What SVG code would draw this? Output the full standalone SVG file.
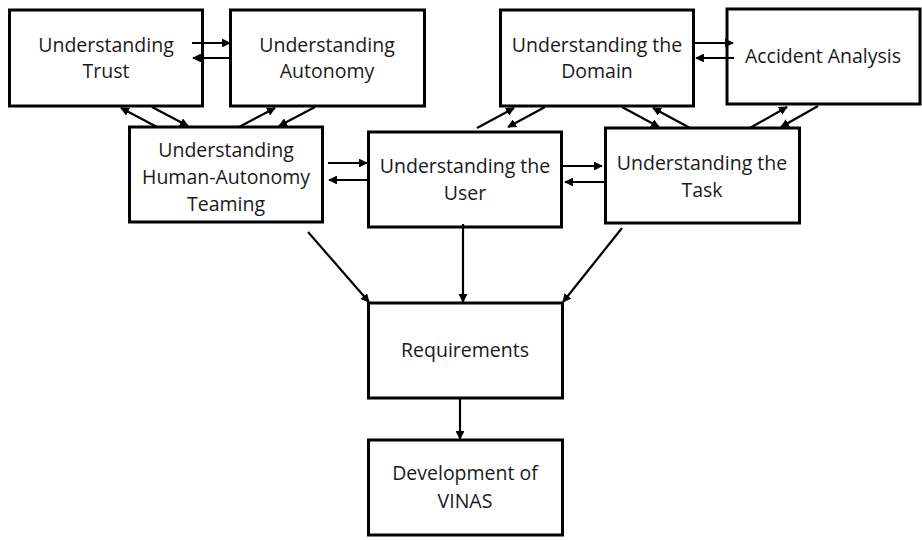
<svg xmlns="http://www.w3.org/2000/svg" width="922" height="540" viewBox="0 0 922 540">
<defs>
<marker id="ah" viewBox="0 0 10 10" refX="9" refY="5" markerWidth="4" markerHeight="4" orient="auto" markerUnits="strokeWidth">
<path d="M0,0 L10,5 L0,10 z" fill="#000"/>
</marker>
<style>
.box{fill:#fff;stroke:#000;stroke-width:3}
.t{font-family:"Open Sans","Liberation Sans",sans-serif;font-size:19.5px;fill:#1a1a1a;text-anchor:middle}
.c{stroke:#000;stroke-width:2.2;fill:none;marker-end:url(#ah)}
</style>
</defs>
<rect width="922" height="540" fill="#fff"/>
<g id="trust"><rect class="box" x="9.5" y="10" width="193" height="96"/><text class="t" x="106" y="52">Understanding</text><text class="t" x="106" y="78">Trust</text></g>
<g id="autonomy"><rect class="box" x="230.5" y="10" width="194" height="96"/><text class="t" x="327" y="52">Understanding</text><text class="t" x="327" y="78">Autonomy</text></g>
<g id="hat"><rect class="box" x="129.5" y="127" width="193" height="95"/><text class="t" x="226" y="157">Understanding</text><text class="t" x="226" y="184">Human-Autonomy</text><text class="t" x="226" y="211">Teaming</text></g>
<g id="user"><rect class="box" x="368.5" y="132" width="193" height="95"/><text class="t" x="465" y="173">Understanding the</text><text class="t" x="465" y="200">User</text></g>
<g id="domain"><rect class="box" x="500.5" y="10" width="193" height="96"/><text class="t" x="597" y="52">Understanding the</text><text class="t" x="597" y="78">Domain</text></g>
<g id="accident"><rect class="box" x="727" y="9" width="193" height="95"/><text class="t" x="823" y="63">Accident Analysis</text></g>
<g id="task"><rect class="box" x="605.5" y="128" width="194" height="95"/><text class="t" x="702" y="170">Understanding the</text><text class="t" x="702" y="197">Task</text></g>
<g id="requirements"><rect class="box" x="368.5" y="303" width="194" height="95"/><text class="t" x="465" y="357">Requirements</text></g>
<g id="development"><rect class="box" x="368.5" y="440" width="194" height="95"/><text class="t" x="465" y="480">Development of</text><text class="t" x="465" y="508">VINAS</text></g>
<g id="connectors">
<line class="c" x1="192" y1="43" x2="230" y2="43"/>
<line class="c" x1="230" y1="58" x2="193" y2="58"/>
<line class="c" x1="157" y1="127" x2="121" y2="108"/>
<line class="c" x1="152" y1="107" x2="188" y2="126"/>
<line class="c" x1="239" y1="127" x2="275" y2="108"/>
<line class="c" x1="315" y1="107" x2="279" y2="126"/>
<line class="c" x1="328" y1="163" x2="367" y2="163"/>
<line class="c" x1="368" y1="180" x2="329" y2="180"/>
<line class="c" x1="477" y1="128" x2="514" y2="108"/>
<line class="c" x1="545" y1="107" x2="508" y2="127"/>
<line class="c" x1="622" y1="107" x2="659" y2="127"/>
<line class="c" x1="690" y1="128" x2="653" y2="108"/>
<line class="c" x1="750" y1="128" x2="787" y2="107"/>
<line class="c" x1="818" y1="106" x2="781" y2="127"/>
<line class="c" x1="695" y1="43" x2="733" y2="43"/>
<line class="c" x1="734" y1="58" x2="696" y2="58"/>
<line class="c" x1="562" y1="166" x2="602" y2="166"/>
<line class="c" x1="605" y1="182" x2="565" y2="182"/>
<line class="c" x1="308" y1="232" x2="369" y2="302"/>
<line class="c" x1="463" y1="224" x2="463" y2="302"/>
<line class="c" x1="622" y1="228" x2="563" y2="302"/>
<line class="c" x1="460" y1="398" x2="460" y2="439"/>
</g>
</svg>
